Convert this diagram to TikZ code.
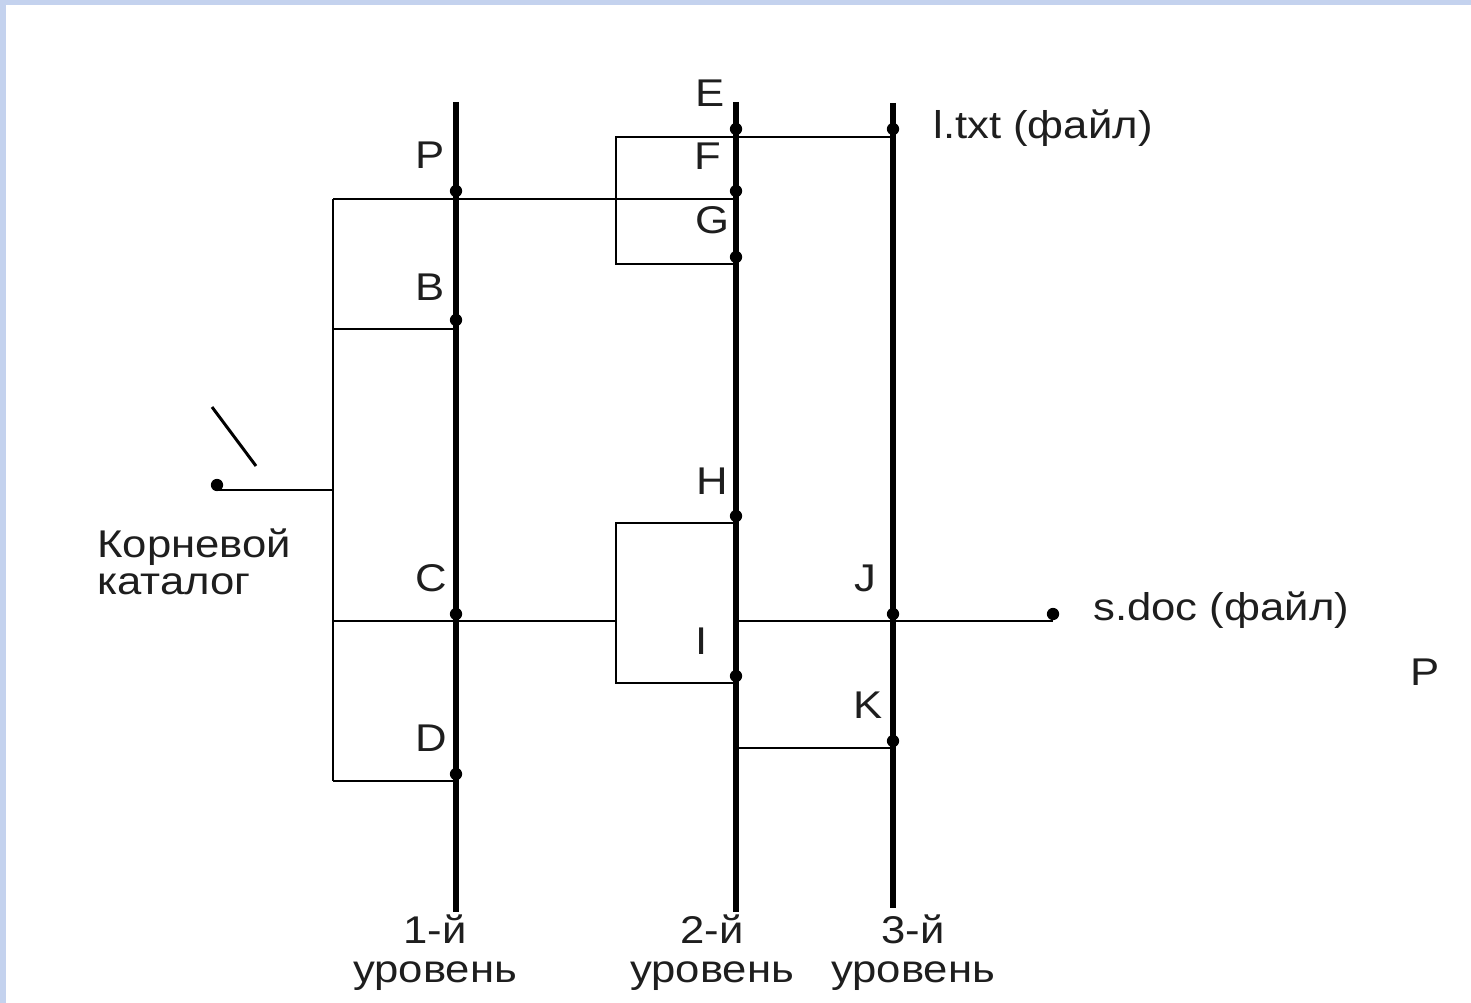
\documentclass[tikz,border=0pt]{standalone}
\usepackage{fontspec}
\setmainfont{Liberation Sans}[FakeStretch=1.13]
\definecolor{slideblue}{RGB}{196,210,238}
\definecolor{inkgray}{RGB}{30,30,30}

\tikzset{
  level/.style={line width=3pt},
  link/.style={line width=1.3pt},
  lbl/.style={font=\fontsize{22}{22}\selectfont, text=inkgray, inner sep=0pt},
  knot/.style={fill=black},
}

\begin{document}
\begin{tikzpicture}[x=0.02cm,y=-0.02cm]
    \useasboundingbox (0,0) rectangle (1471,1003);
    % Slide edge
    \fill[slideblue] (0,0) rectangle (6,1003);
    \fill[slideblue] (0,0) rectangle (1471,5);
    % Levels
    \coordinate (l1t) at (456,102); \coordinate (l1b) at (456,912);
    \coordinate (l2t) at (736,102); \coordinate (l2b) at (736,912);
    \coordinate (l3t) at (893,103); \coordinate (l3b) at (893,908);
    \draw[level] (l1t) -- (l1b);
    \draw[level] (l2t) -- (l2b);
    \draw[level] (l3t) -- (l3b);
    % Root catalog links
    \coordinate (root) at (217,490);
    \coordinate (rj) at (333,490);
    \coordinate (pa) at (333,199); \coordinate (pb) at (736,199);
    \coordinate (ba) at (333,329); \coordinate (bb) at (456,329);
    \coordinate (ca) at (333,621); \coordinate (cb) at (616,621);
    \coordinate (da) at (333,781); \coordinate (db) at (456,781);
    \draw[link] (root) -- (rj);
    \draw[link] (pa) -- (da);
    \draw[link] (pa) -- (pb);
    \draw[link] (ba) -- (bb);
    \draw[link] (ca) -- (cb);
    \draw[link] (da) -- (db);
    % Second level links
    \coordinate (fa) at (616,137); \coordinate (fb) at (893,137);
    \coordinate (ga) at (616,264); \coordinate (gb) at (736,264);
    \coordinate (ha) at (616,523); \coordinate (hb) at (736,523);
    \coordinate (ia) at (616,683); \coordinate (ib) at (736,683);
    \coordinate (ja) at (736,621); \coordinate (sdoc) at (1053,621);
    \coordinate (ka) at (736,748); \coordinate (kb) at (893,748);
    \draw[link] (fb) -- (fa) -- (ga) -- (gb);
    \draw[link] (hb) -- (ha) -- (ia) -- (ib);
    \draw[link] (ja) -- (sdoc);
    \draw[link] (ka) -- (kb);
    % Slash
    \coordinate (sl1) at (212,407); \coordinate (sl2) at (256,466);
    \draw[line width=1.7pt] (sl1) -- (sl2);
    % Dots
    \foreach \p in {(217,485),(456,191),(456,320),(456,614),(456,774),
                    (736,129),(736,191),(736,257),(736,516),(736,676),
                    (893,129),(893,614),(893,741),(1053,614)}
        \fill[knot] \p circle (3.5pt);
    % Letters
    \node[lbl] (lP) at (430,155) {P};
    \node[lbl] (lB) at (430,287) {B};
    \node[lbl] (lC) at (431,578) {C};
    \node[lbl] (lD) at (431,738) {D};
    \node[lbl] (lE) at (710,93) {E};
    \node[lbl] (lF) at (708,156) {F};
    \node[lbl] (lG) at (712,220) {G};
    \node[lbl] (lH) at (712,481) {H};
    \node[lbl] (lI) at (702,641) {I};
    \node[lbl] (lJ) at (865,578) {J};
    \node[lbl] (lK) at (868,705) {K};
    \node[lbl] (lP2) at (1425,672) {P};
    % Files
    \node[lbl, anchor=base west] (ltxt) at (933,139) {l.txt (файл)};
    \node[lbl, anchor=base west] (sdoctxt) at (1093,620) {s.doc (файл)};
    % Root caption
    \node[lbl, anchor=base west] (kor) at (97,557) {Корневой};
    \node[lbl, anchor=base west] (kat) at (97,594) {каталог};
    % Level captions
    \node[lbl, anchor=base] (n1) at (435,943) {1-й};
    \node[lbl, anchor=base] (u1) at (435,982) {уровень};
    \node[lbl, anchor=base] (n2) at (712,943) {2-й};
    \node[lbl, anchor=base] (u2) at (712,982) {уровень};
    \node[lbl, anchor=base] (n3) at (913,943) {3-й};
    \node[lbl, anchor=base] (u3) at (913,982) {уровень};
\end{tikzpicture}
\end{document}
